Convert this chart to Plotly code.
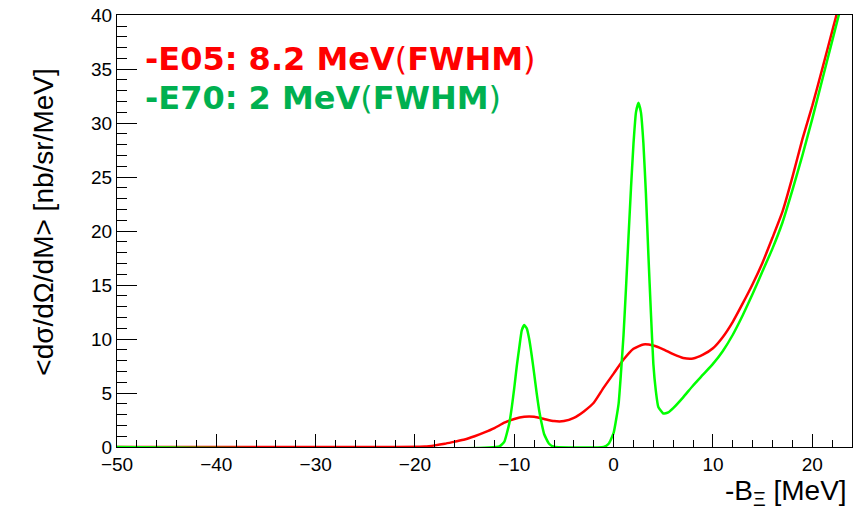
import plotly.graph_objects as go

# ---- data ----
red_x = [-50, -19, -18, -17, -16, -15, -14, -13, -12, -11, -10, -9, -8, -7, -6, -5, -4, -3, -2, -1,
         0, 1, 2, 3, 4, 5, 6, 7, 8, 9, 10, 11, 12, 13, 14, 15, 16, 17, 18, 19, 20, 21, 22, 23]
red_y = [0, 0.05, 0.15, 0.3, 0.5, 0.7, 1.0, 1.35, 1.75, 2.25, 2.6, 2.8, 2.8, 2.6, 2.4, 2.4, 2.7, 3.3, 4.1, 5.5,
         6.8, 8.1, 9.1, 9.5, 9.4, 9.05, 8.6, 8.25, 8.2, 8.55, 9.15, 10.2, 11.6, 13.3, 15.1, 17.1, 19.4, 21.8,
         25.0, 28.5, 31.6, 35.0, 38.5, 42.0]

green_x = [-50, -11.5, -11, -10.5, -10.25, -10, -9.75, -9.5, -9.25, -9, -8.75, -8.5, -8.25, -8, -7.75,
           -7.5, -7.25, -7, -6.5, -6, -1, -0.5, 0, 0.5, 0.75, 1, 1.25, 1.5, 1.75, 2, 2.25, 2.5, 2.75, 3,
           3.25, 3.5, 3.75, 4, 4.25, 4.5, 5, 5.5, 6, 7, 8, 9, 10, 11, 12, 13, 14, 15, 16, 17, 18, 19,
           20, 21, 22, 23]
green_y = [0, 0.05, 0.5, 2.2, 3.7, 5.5, 7.5, 9.2, 10.8, 11.3, 11.0, 10.0, 8.5, 6.8, 5.0,
           3.4, 2.2, 1.2, 0.3, 0.02, 0.0, 0.3, 1.3, 4.0, 7.0, 10.4, 14.8, 19.5, 24.0, 28.1, 31.0, 31.9,
           31.0, 28.1, 23.5, 17.8, 12.5, 7.7, 5.2, 3.7, 3.1, 3.2, 3.6, 4.6, 5.7, 6.7, 7.7, 8.9, 10.4,
           12.2, 14.2, 16.3, 18.4, 20.8, 23.8, 27.0, 30.4, 34.0, 37.6, 41.2]

x_ticks = [-50, -40, -30, -20, -10, 0, 10, 20]
y_ticks = [0, 5, 10, 15, 20, 25, 30, 35, 40]

label_red = "<b>-E05: 8.2 MeV</b>(<b>FWHM</b>)"
label_green = "<b>-E70: 2 MeV</b>(<b>FWHM</b>)"
x_title = "-B<sub>Ξ</sub> [MeV]"
y_title = "<dσ/dΩ/dM> [nb/sr/MeV]"

fig = go.Figure()
fig.add_trace(go.Scatter(x=red_x, y=red_y, mode="lines", line_shape="spline",
                         line=dict(color="#FF0000", width=2.5, smoothing=0.5), showlegend=False))
fig.add_trace(go.Scatter(x=green_x, y=green_y, mode="lines", line_shape="spline",
                         line=dict(color="#00FF00", width=2.5, smoothing=0.4), showlegend=False))

axis_font = dict(family="Liberation Sans, Arial, sans-serif", size=19, color="black")

fig.update_layout(
    width=858, height=523,
    margin=dict(l=117, r=5, t=10, b=76),
    paper_bgcolor="white", plot_bgcolor="white",
    xaxis=dict(range=[-50, 24], showgrid=False, zeroline=False, showline=True, linecolor="black",
               linewidth=1, mirror=True, ticks="inside", ticklen=13, tickcolor="black",
               tickmode="array", tickvals=x_ticks, tickfont=axis_font, ticklabeloverflow="allow",
               minor=dict(ticks="inside", ticklen=7, dtick=2, tick0=-50, tickcolor="black")),
    yaxis=dict(range=[0, 40.02], showgrid=False, zeroline=False, showline=True, linecolor="black",
               linewidth=1, mirror=True, ticks="inside", ticklen=20, tickcolor="black",
               tickmode="array", tickvals=y_ticks, tickfont=axis_font, ticklabeloverflow="allow",
               minor=dict(ticks="inside", ticklen=10, dtick=1, tick0=0, tickcolor="black")),
)

legend_font = "DejaVu Sans, Noto Sans CJK JP, sans-serif"
fig.add_annotation(text=label_red, xref="paper", yref="paper", x=0.0353, y=0.897,
                   xanchor="left", yanchor="middle", showarrow=False,
                   font=dict(family=legend_font, size=32, color="#FF0000"))
fig.add_annotation(text=label_green, xref="paper", yref="paper", x=0.0353, y=0.809,
                   xanchor="left", yanchor="middle", showarrow=False,
                   font=dict(family=legend_font, size=32, color="#00B050"))
fig.add_annotation(text=x_title, xref="paper", yref="paper", x=(850 - 117) / 736, y=(447 - 493) / 437,
                   xanchor="right", yanchor="middle", showarrow=False,
                   font=dict(family="Liberation Sans, Arial, sans-serif", size=28, color="black"))
fig.add_annotation(text=y_title, xref="paper", yref="paper", x=(43 - 117) / 736, y=(447 - 220) / 437,
                   xanchor="center", yanchor="middle", textangle=-90, showarrow=False,
                   font=dict(family="Liberation Sans, Arial, sans-serif", size=28, color="black"))

fig.write_html("out.html")
